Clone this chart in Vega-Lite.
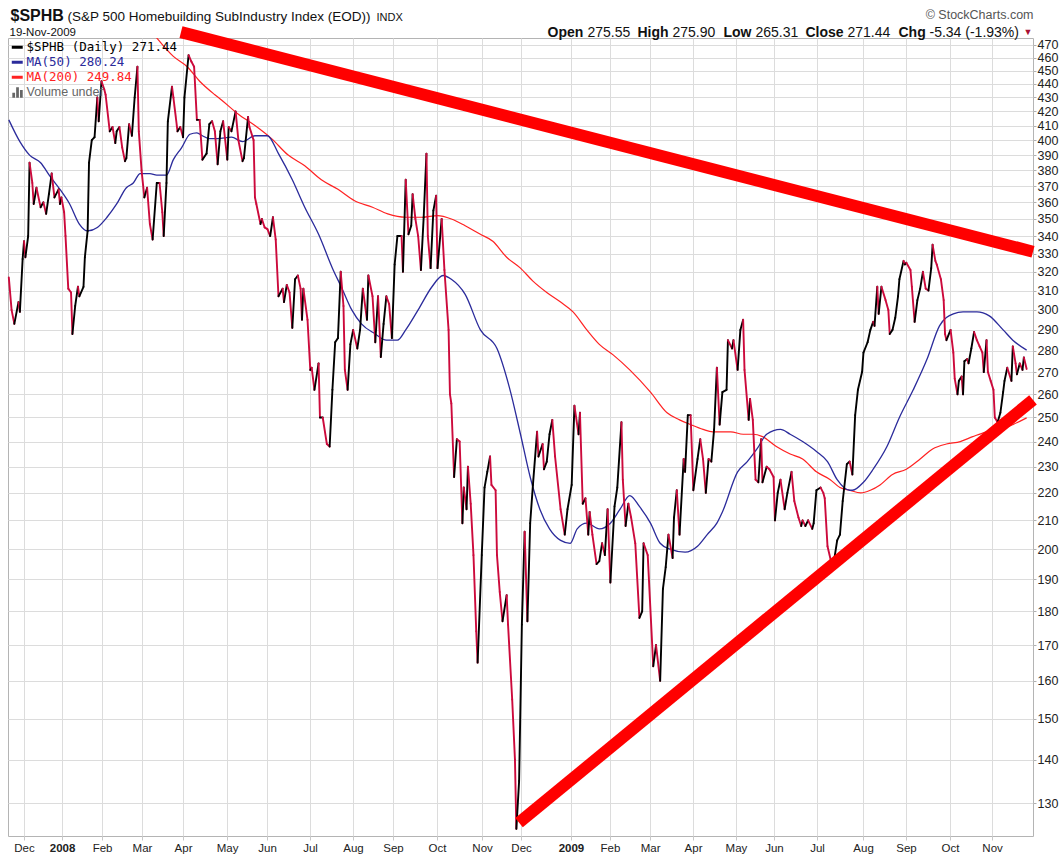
{
  "$schema": "https://vega.github.io/schema/vega-lite/v6.json",
  "width": 1025,
  "height": 798,
  "autosize": {"type": "none"},
  "padding": {"left": 8, "top": 38, "right": 28, "bottom": 19},
  "background": "white",
  "config": {
    "view": {"stroke": "#b4b4b4"},
    "font": "Liberation Sans",
    "axis": {"labelFont": "Liberation Sans", "titleFont": "Liberation Sans"}
  },
  "datasets": {
    "price": [
      {"date":"2007-11-22","close":317},{"date":"2007-11-24","close":300},{"date":"2007-11-26","close":293},{"date":"2007-11-29","close":304},{"date":"2007-11-30","close":299},
      {"date":"2007-12-02","close":327},{"date":"2007-12-03","close":337},{"date":"2007-12-04","close":328},{"date":"2007-12-06","close":340},{"date":"2007-12-07","close":385},
      {"date":"2007-12-09","close":372},{"date":"2007-12-10","close":359},{"date":"2007-12-12","close":369},{"date":"2007-12-15","close":357},{"date":"2007-12-17","close":360},
      {"date":"2007-12-19","close":353},{"date":"2007-12-21","close":365},{"date":"2007-12-23","close":378},{"date":"2007-12-25","close":363},{"date":"2007-12-28","close":368},
      {"date":"2007-12-29","close":359},{"date":"2007-12-30","close":363},{"date":"2008-01-01","close":354},{"date":"2008-01-02","close":340},{"date":"2008-01-04","close":311},
      {"date":"2008-01-06","close":309},{"date":"2008-01-07","close":288},{"date":"2008-01-09","close":302},{"date":"2008-01-11","close":312},{"date":"2008-01-12","close":307},
      {"date":"2008-01-15","close":312},{"date":"2008-01-16","close":328},{"date":"2008-01-18","close":343},{"date":"2008-01-19","close":385},{"date":"2008-01-21","close":400},
      {"date":"2008-01-23","close":402},{"date":"2008-01-25","close":430},{"date":"2008-01-26","close":413},{"date":"2008-01-28","close":442},{"date":"2008-01-30","close":436},
      {"date":"2008-01-31","close":432},{"date":"2008-02-03","close":406},{"date":"2008-02-05","close":409},{"date":"2008-02-07","close":398},{"date":"2008-02-08","close":406},
      {"date":"2008-02-10","close":409},{"date":"2008-02-12","close":395},{"date":"2008-02-14","close":386},{"date":"2008-02-15","close":388},{"date":"2008-02-17","close":411},
      {"date":"2008-02-19","close":403},{"date":"2008-02-21","close":430},{"date":"2008-02-23","close":453},{"date":"2008-02-24","close":406},{"date":"2008-02-26","close":380},
      {"date":"2008-02-28","close":363},{"date":"2008-03-01","close":369},{"date":"2008-03-03","close":347},{"date":"2008-03-05","close":338},{"date":"2008-03-08","close":372},
      {"date":"2008-03-10","close":372},{"date":"2008-03-12","close":354},{"date":"2008-03-13","close":340},{"date":"2008-03-15","close":372},{"date":"2008-03-16","close":413},
      {"date":"2008-03-19","close":438},{"date":"2008-03-20","close":430},{"date":"2008-03-23","close":406},{"date":"2008-03-25","close":409},{"date":"2008-03-27","close":402},
      {"date":"2008-03-28","close":430},{"date":"2008-03-31","close":462},{"date":"2008-04-02","close":457},{"date":"2008-04-04","close":453},{"date":"2008-04-06","close":414},
      {"date":"2008-04-08","close":414},{"date":"2008-04-10","close":387},{"date":"2008-04-13","close":391},{"date":"2008-04-15","close":411},{"date":"2008-04-17","close":413},
      {"date":"2008-04-19","close":406},{"date":"2008-04-21","close":384},{"date":"2008-04-23","close":406},{"date":"2008-04-25","close":413},{"date":"2008-04-28","close":387},
      {"date":"2008-04-29","close":409},{"date":"2008-05-01","close":406},{"date":"2008-05-04","close":420},{"date":"2008-05-06","close":400},{"date":"2008-05-09","close":386},
      {"date":"2008-05-10","close":388},{"date":"2008-05-13","close":416},{"date":"2008-05-14","close":409},{"date":"2008-05-17","close":400},{"date":"2008-05-18","close":363},
      {"date":"2008-05-19","close":359},{"date":"2008-05-22","close":347},{"date":"2008-05-23","close":350},{"date":"2008-05-25","close":345},{"date":"2008-05-27","close":344},
      {"date":"2008-05-29","close":340},{"date":"2008-05-31","close":351},{"date":"2008-06-02","close":338},{"date":"2008-06-04","close":307},{"date":"2008-06-07","close":311},
      {"date":"2008-06-08","close":304},{"date":"2008-06-10","close":313},{"date":"2008-06-12","close":309},{"date":"2008-06-14","close":291},{"date":"2008-06-16","close":316},
      {"date":"2008-06-18","close":318},{"date":"2008-06-20","close":311},{"date":"2008-06-21","close":295},{"date":"2008-06-22","close":311},{"date":"2008-06-25","close":295},
      {"date":"2008-06-27","close":271},{"date":"2008-06-28","close":272},{"date":"2008-06-30","close":262},{"date":"2008-07-03","close":274},{"date":"2008-07-04","close":250},
      {"date":"2008-07-06","close":250},{"date":"2008-07-09","close":239},{"date":"2008-07-11","close":238},{"date":"2008-07-13","close":262},{"date":"2008-07-15","close":284},
      {"date":"2008-07-17","close":286},{"date":"2008-07-19","close":320},{"date":"2008-07-21","close":302},{"date":"2008-07-22","close":271},{"date":"2008-07-24","close":262},
      {"date":"2008-07-26","close":283},{"date":"2008-07-28","close":290},{"date":"2008-07-31","close":281},{"date":"2008-08-02","close":290},{"date":"2008-08-04","close":311},
      {"date":"2008-08-07","close":295},{"date":"2008-08-08","close":318},{"date":"2008-08-11","close":307},{"date":"2008-08-13","close":284},{"date":"2008-08-15","close":307},
      {"date":"2008-08-17","close":277},{"date":"2008-08-19","close":293},{"date":"2008-08-21","close":307},{"date":"2008-08-23","close":303},{"date":"2008-08-25","close":286},
      {"date":"2008-08-27","close":324},{"date":"2008-08-29","close":340},{"date":"2008-09-01","close":340},{"date":"2008-09-02","close":320},{"date":"2008-09-04","close":374},
      {"date":"2008-09-06","close":341},{"date":"2008-09-08","close":346},{"date":"2008-09-09","close":365},{"date":"2008-09-11","close":350},{"date":"2008-09-13","close":340},
      {"date":"2008-09-15","close":321},{"date":"2008-09-17","close":351},{"date":"2008-09-19","close":391},{"date":"2008-09-20","close":340},{"date":"2008-09-22","close":322},
      {"date":"2008-09-24","close":355},{"date":"2008-09-26","close":364},{"date":"2008-09-27","close":322},{"date":"2008-09-30","close":350},{"date":"2008-10-02","close":321},
      {"date":"2008-10-05","close":290},{"date":"2008-10-06","close":260},{"date":"2008-10-07","close":256},{"date":"2008-10-09","close":226},{"date":"2008-10-11","close":241},
      {"date":"2008-10-13","close":240},{"date":"2008-10-15","close":209},{"date":"2008-10-16","close":222},{"date":"2008-10-18","close":214},{"date":"2008-10-19","close":230},
      {"date":"2008-10-21","close":216},{"date":"2008-10-23","close":198},{"date":"2008-10-25","close":174},{"date":"2008-10-26","close":165},{"date":"2008-10-29","close":198},
      {"date":"2008-10-31","close":222},{"date":"2008-11-02","close":228},{"date":"2008-11-04","close":234},{"date":"2008-11-05","close":223},{"date":"2008-11-08","close":221},
      {"date":"2008-11-09","close":198},{"date":"2008-11-11","close":186},{"date":"2008-11-13","close":177},{"date":"2008-11-16","close":185},{"date":"2008-11-17","close":176},
      {"date":"2008-11-20","close":155},{"date":"2008-11-22","close":140},{"date":"2008-11-23","close":124.5},{"date":"2008-11-25","close":135},{"date":"2008-11-27","close":176},
      {"date":"2008-11-29","close":206},{"date":"2008-12-01","close":177},{"date":"2008-12-03","close":209},{"date":"2008-12-05","close":223},{"date":"2008-12-08","close":244},
      {"date":"2008-12-09","close":234},{"date":"2008-12-12","close":239},{"date":"2008-12-13","close":229},{"date":"2008-12-15","close":232},{"date":"2008-12-17","close":243},
      {"date":"2008-12-19","close":249},{"date":"2008-12-21","close":234},{"date":"2008-12-25","close":214},{"date":"2008-12-28","close":205},{"date":"2008-12-30","close":214},
      {"date":"2009-01-02","close":223},{"date":"2009-01-04","close":255},{"date":"2009-01-07","close":243},{"date":"2009-01-08","close":252},{"date":"2009-01-10","close":216},
      {"date":"2009-01-12","close":218},{"date":"2009-01-14","close":205},{"date":"2009-01-15","close":213},{"date":"2009-01-17","close":205},{"date":"2009-01-20","close":195},
      {"date":"2009-01-22","close":196},{"date":"2009-01-24","close":202},{"date":"2009-01-26","close":198},{"date":"2009-01-28","close":214},{"date":"2009-01-30","close":189},
      {"date":"2009-02-02","close":215},{"date":"2009-02-04","close":222},{"date":"2009-02-07","close":248},{"date":"2009-02-08","close":225},{"date":"2009-02-10","close":208},
      {"date":"2009-02-12","close":216},{"date":"2009-02-14","close":211},{"date":"2009-02-17","close":202},{"date":"2009-02-20","close":178},{"date":"2009-02-22","close":180},
      {"date":"2009-02-23","close":202},{"date":"2009-02-26","close":198},{"date":"2009-03-02","close":164},{"date":"2009-03-04","close":170},{"date":"2009-03-07","close":160},
      {"date":"2009-03-09","close":187},{"date":"2009-03-11","close":194},{"date":"2009-03-13","close":205},{"date":"2009-03-16","close":197},{"date":"2009-03-17","close":211},
      {"date":"2009-03-19","close":221},{"date":"2009-03-21","close":205},{"date":"2009-03-24","close":233},{"date":"2009-03-25","close":228},{"date":"2009-03-27","close":251},
      {"date":"2009-03-29","close":251},{"date":"2009-03-31","close":221},{"date":"2009-04-03","close":233},{"date":"2009-04-05","close":241},{"date":"2009-04-07","close":233},
      {"date":"2009-04-09","close":220},{"date":"2009-04-11","close":233},{"date":"2009-04-13","close":232},{"date":"2009-04-15","close":245},{"date":"2009-04-17","close":272},
      {"date":"2009-04-19","close":247},{"date":"2009-04-21","close":261},{"date":"2009-04-24","close":262},{"date":"2009-04-25","close":285},{"date":"2009-04-28","close":281},
      {"date":"2009-04-29","close":285},{"date":"2009-05-02","close":271},{"date":"2009-05-04","close":290},{"date":"2009-05-06","close":295},{"date":"2009-05-07","close":271},
      {"date":"2009-05-10","close":249},{"date":"2009-05-11","close":258},{"date":"2009-05-13","close":249},{"date":"2009-05-15","close":225},{"date":"2009-05-17","close":224},
      {"date":"2009-05-19","close":241},{"date":"2009-05-20","close":224},{"date":"2009-05-23","close":230},{"date":"2009-05-25","close":229},{"date":"2009-05-28","close":226},
      {"date":"2009-05-29","close":210},{"date":"2009-05-31","close":220},{"date":"2009-06-02","close":225},{"date":"2009-06-05","close":214},{"date":"2009-06-07","close":220},
      {"date":"2009-06-10","close":228},{"date":"2009-06-12","close":217},{"date":"2009-06-15","close":211},{"date":"2009-06-17","close":208},{"date":"2009-06-18","close":210},
      {"date":"2009-06-20","close":208},{"date":"2009-06-22","close":210},{"date":"2009-06-25","close":207},{"date":"2009-06-26","close":209},{"date":"2009-06-28","close":221},
      {"date":"2009-07-01","close":222},{"date":"2009-07-03","close":220},{"date":"2009-07-04","close":218},{"date":"2009-07-06","close":201},{"date":"2009-07-09","close":195},
      {"date":"2009-07-10","close":194},{"date":"2009-07-13","close":203},{"date":"2009-07-15","close":205},{"date":"2009-07-17","close":217},{"date":"2009-07-20","close":231},
      {"date":"2009-07-22","close":232},{"date":"2009-07-24","close":227},{"date":"2009-07-26","close":251},{"date":"2009-07-28","close":262},{"date":"2009-07-31","close":270},
      {"date":"2009-08-01","close":279},{"date":"2009-08-04","close":284},{"date":"2009-08-06","close":290},{"date":"2009-08-08","close":294},{"date":"2009-08-09","close":292},
      {"date":"2009-08-11","close":312},{"date":"2009-08-12","close":298},{"date":"2009-08-14","close":312},{"date":"2009-08-17","close":305},{"date":"2009-08-19","close":300},
      {"date":"2009-08-20","close":288},{"date":"2009-08-22","close":290},{"date":"2009-08-24","close":296},{"date":"2009-08-26","close":307},{"date":"2009-08-27","close":316},
      {"date":"2009-08-30","close":326},{"date":"2009-08-31","close":324},{"date":"2009-09-01","close":325},{"date":"2009-09-04","close":321},{"date":"2009-09-05","close":312},
      {"date":"2009-09-07","close":294},{"date":"2009-09-09","close":305},{"date":"2009-09-11","close":311},{"date":"2009-09-13","close":320},{"date":"2009-09-15","close":311},
      {"date":"2009-09-17","close":310},{"date":"2009-09-19","close":322},{"date":"2009-09-20","close":335},{"date":"2009-09-22","close":326},{"date":"2009-09-23","close":324},
      {"date":"2009-09-26","close":316},{"date":"2009-09-28","close":305},{"date":"2009-09-29","close":288},{"date":"2009-09-30","close":285},{"date":"2009-10-03","close":290},
      {"date":"2009-10-05","close":279},{"date":"2009-10-06","close":267},{"date":"2009-10-08","close":260},{"date":"2009-10-09","close":266},{"date":"2009-10-11","close":268},
      {"date":"2009-10-12","close":260},{"date":"2009-10-13","close":275},{"date":"2009-10-15","close":276},{"date":"2009-10-16","close":274},{"date":"2009-10-18","close":281},
      {"date":"2009-10-20","close":289},{"date":"2009-10-22","close":285},{"date":"2009-10-24","close":282},{"date":"2009-10-26","close":279},{"date":"2009-10-27","close":270},
      {"date":"2009-10-29","close":285},{"date":"2009-10-30","close":270},{"date":"2009-11-01","close":266},{"date":"2009-11-03","close":262},{"date":"2009-11-04","close":250},
      {"date":"2009-11-06","close":248},{"date":"2009-11-08","close":252},{"date":"2009-11-10","close":261},{"date":"2009-11-11","close":266},{"date":"2009-11-13","close":272},
      {"date":"2009-11-16","close":266},{"date":"2009-11-17","close":282},{"date":"2009-11-19","close":274},{"date":"2009-11-20","close":269},{"date":"2009-11-22","close":274},
      {"date":"2009-11-24","close":271},{"date":"2009-11-25","close":276.78},{"date":"2009-11-27","close":271.44}
    ],
    "ma50": [
      {"date":"2007-11-22","ma":414},{"date":"2007-11-30","ma":399},{"date":"2007-12-07","ma":390},{"date":"2007-12-15","ma":385},{"date":"2007-12-22","ma":376},
      {"date":"2007-12-29","ma":368},{"date":"2008-01-05","ma":359},{"date":"2008-01-12","ma":347},{"date":"2008-01-18","ma":343},{"date":"2008-01-25","ma":345},
      {"date":"2008-02-01","ma":351},{"date":"2008-02-08","ma":359},{"date":"2008-02-15","ma":369},{"date":"2008-02-20","ma":372},{"date":"2008-02-25","ma":378},
      {"date":"2008-03-03","ma":378},{"date":"2008-03-08","ma":377},{"date":"2008-03-15","ma":377},{"date":"2008-03-20","ma":387},{"date":"2008-03-26","ma":395},
      {"date":"2008-04-01","ma":404},{"date":"2008-04-06","ma":405},{"date":"2008-04-10","ma":403},{"date":"2008-04-15","ma":401},{"date":"2008-04-21","ma":401},
      {"date":"2008-05-01","ma":402},{"date":"2008-05-09","ma":399},{"date":"2008-05-18","ma":403},{"date":"2008-05-27","ma":403},{"date":"2008-06-04","ma":391},
      {"date":"2008-06-14","ma":374},{"date":"2008-06-23","ma":357},{"date":"2008-07-03","ma":341},{"date":"2008-07-13","ma":322},{"date":"2008-07-20","ma":311},
      {"date":"2008-07-27","ma":300},{"date":"2008-08-03","ma":293},{"date":"2008-08-13","ma":288},{"date":"2008-08-21","ma":285},{"date":"2008-08-29","ma":285},
      {"date":"2008-09-04","ma":290},{"date":"2008-09-13","ma":300},{"date":"2008-09-23","ma":312},{"date":"2008-10-01","ma":318},{"date":"2008-10-07","ma":316},
      {"date":"2008-10-17","ma":308},{"date":"2008-10-28","ma":290},{"date":"2008-11-09","ma":281},{"date":"2008-11-18","ma":263},{"date":"2008-11-26","ma":243},
      {"date":"2008-12-03","ma":226},{"date":"2008-12-10","ma":214},{"date":"2008-12-17","ma":207},{"date":"2008-12-25","ma":203},{"date":"2009-01-01","ma":202},
      {"date":"2009-01-06","ma":207},{"date":"2009-01-13","ma":209},{"date":"2009-01-22","ma":207},{"date":"2009-01-30","ma":209},{"date":"2009-02-06","ma":214},
      {"date":"2009-02-13","ma":219},{"date":"2009-02-20","ma":215},{"date":"2009-02-28","ma":209},{"date":"2009-03-07","ma":202},{"date":"2009-03-14","ma":200},
      {"date":"2009-03-25","ma":199},{"date":"2009-04-03","ma":201},{"date":"2009-04-10","ma":205},{"date":"2009-04-17","ma":209},{"date":"2009-04-21","ma":213},
      {"date":"2009-05-02","ma":228},{"date":"2009-05-09","ma":232},{"date":"2009-05-16","ma":237},{"date":"2009-05-23","ma":243},{"date":"2009-06-02","ma":245},
      {"date":"2009-06-09","ma":243},{"date":"2009-06-18","ma":240},{"date":"2009-06-28","ma":236},{"date":"2009-07-06","ma":232},{"date":"2009-07-13","ma":225},
      {"date":"2009-07-22","ma":221},{"date":"2009-07-24","ma":221},{"date":"2009-08-01","ma":224},{"date":"2009-08-08","ma":229},{"date":"2009-08-18","ma":238},
      {"date":"2009-08-27","ma":250},{"date":"2009-09-06","ma":262},{"date":"2009-09-16","ma":276},{"date":"2009-09-25","ma":292},{"date":"2009-10-05","ma":298},
      {"date":"2009-10-12","ma":299},{"date":"2009-10-22","ma":299},{"date":"2009-10-31","ma":297},{"date":"2009-11-10","ma":290},{"date":"2009-11-17","ma":285},
      {"date":"2009-11-27","ma":280.24}
    ],
    "ma200": [
      {"date":"2008-03-07","ma":477},{"date":"2008-03-20","ma":461},{"date":"2008-03-30","ma":453},{"date":"2008-04-08","ma":442},{"date":"2008-04-19","ma":432},
      {"date":"2008-04-24","ma":428},{"date":"2008-05-06","ma":418},{"date":"2008-05-18","ma":410},{"date":"2008-05-30","ma":401},{"date":"2008-06-11","ma":390},
      {"date":"2008-06-23","ma":383},{"date":"2008-07-05","ma":374},{"date":"2008-07-17","ma":368},{"date":"2008-07-29","ma":361},{"date":"2008-08-11","ma":357},
      {"date":"2008-08-22","ma":353},{"date":"2008-09-04","ma":351},{"date":"2008-09-16","ma":351},{"date":"2008-09-27","ma":352},{"date":"2008-10-07","ma":350},
      {"date":"2008-10-17","ma":346},{"date":"2008-10-28","ma":341},{"date":"2008-11-06","ma":337},{"date":"2008-11-16","ma":328},{"date":"2008-11-26","ma":322},
      {"date":"2008-12-05","ma":315},{"date":"2008-12-15","ma":309},{"date":"2008-12-25","ma":304},{"date":"2009-01-03","ma":299},{"date":"2009-01-13","ma":290},
      {"date":"2009-01-22","ma":283},{"date":"2009-02-01","ma":278},{"date":"2009-02-13","ma":271},{"date":"2009-02-28","ma":261},{"date":"2009-03-12","ma":252},
      {"date":"2009-03-21","ma":249},{"date":"2009-03-29","ma":247},{"date":"2009-04-07","ma":245},{"date":"2009-04-14","ma":244},{"date":"2009-04-27","ma":244},
      {"date":"2009-05-06","ma":243},{"date":"2009-05-13","ma":243},{"date":"2009-05-20","ma":242},{"date":"2009-05-30","ma":238},{"date":"2009-06-09","ma":235},
      {"date":"2009-06-18","ma":233},{"date":"2009-06-28","ma":228},{"date":"2009-07-08","ma":225},{"date":"2009-07-15","ma":222},{"date":"2009-07-22","ma":221},
      {"date":"2009-07-30","ma":220},{"date":"2009-08-06","ma":221},{"date":"2009-08-13","ma":223},{"date":"2009-08-22","ma":227},{"date":"2009-09-01","ma":229},
      {"date":"2009-09-11","ma":233},{"date":"2009-09-20","ma":237},{"date":"2009-09-30","ma":239},{"date":"2009-10-10","ma":240},{"date":"2009-10-19","ma":242},
      {"date":"2009-10-29","ma":244},{"date":"2009-11-08","ma":245},{"date":"2009-11-17","ma":247},{"date":"2009-11-27","ma":249.84}
    ],
    "trend": [
      {"seg":"down","date":"2008-03-25T12:00:00Z","v":480.4},
      {"seg":"down","date":"2009-12-01T14:24:00Z","v":331.1},
      {"seg":"up","date":"2008-11-24T22:00:00Z","v":125.8},
      {"seg":"up","date":"2009-12-01T14:24:00Z","v":257.6}
    ]
  },
  "layer": [
    {
      "data": {"name": "ma200"},
      "mark": {"type": "line", "strokeWidth": 1.2, "clip": true, "interpolate": "monotone"},
      "encoding": {
        "x": {
          "field": "date", "type": "temporal",
          "scale": {"domain": [{"year":2007,"month":11,"date":21,"hours":10,"utc":true},{"year":2009,"month":12,"date":1,"hours":14,"minutes":24,"utc":true}], "nice": false},
          "axis": {
            "orient": "bottom",
            "values": [
              {"year":2007,"month":12,"date":3,"utc":true},
              {"year":2007,"month":12,"date":30,"hours":12,"utc":true},
              {"year":2008,"month":1,"date":28,"hours":10,"utc":true},
              {"year":2008,"month":2,"date":26,"hours":7,"utc":true},
              {"year":2008,"month":3,"date":27,"utc":true},
              {"year":2008,"month":4,"date":27,"hours":19,"utc":true},
              {"year":2008,"month":5,"date":26,"hours":17,"utc":true},
              {"year":2008,"month":6,"date":26,"hours":19,"utc":true},
              {"year":2008,"month":7,"date":27,"hours":22,"utc":true},
              {"year":2008,"month":8,"date":25,"hours":19,"utc":true},
              {"year":2008,"month":9,"date":26,"hours":14,"utc":true},
              {"year":2008,"month":10,"date":29,"hours":5,"utc":true},
              {"year":2008,"month":11,"date":26,"hours":10,"utc":true},
              {"year":2009,"month":1,"date":1,"hours":12,"utc":true},
              {"year":2009,"month":1,"date":29,"hours":17,"utc":true},
              {"year":2009,"month":2,"date":27,"hours":17,"utc":true},
              {"year":2009,"month":3,"date":30,"hours":19,"utc":true},
              {"year":2009,"month":4,"date":30,"hours":19,"utc":true},
              {"year":2009,"month":5,"date":28,"hours":7,"utc":true},
              {"year":2009,"month":6,"date":28,"hours":10,"utc":true},
              {"year":2009,"month":7,"date":31,"hours":17,"utc":true},
              {"year":2009,"month":8,"date":31,"hours":19,"utc":true},
              {"year":2009,"month":10,"date":2,"hours":14,"utc":true},
              {"year":2009,"month":11,"date":2,"utc":true}
            ],
            "labelExpr": "utcmonth(time(datum.value) + 604800000) == 0 ? utcFormat(time(datum.value) + 604800000, '%Y') : utcFormat(time(datum.value) + 604800000, '%b')",
            "labelFontWeight": {"condition": {"test": "utcmonth(time(datum.value) + 604800000) == 0", "value": "bold"}, "value": "normal"},
            "labelFontSize": 11.5, "labelColor": "#222222", "labelPadding": 2, "labelOverlap": false, "labelFlush": false,
            "grid": true, "gridColor": "#dcdcdc", "gridWidth": 1,
            "ticks": true, "tickSize": 4, "tickColor": "#c8c8c8", "domain": false,
            "title": "(S&P 500 Homebuilding SubIndustry Index (EOD))",
            "titleX": 59, "titleY": -816, "titleAlign": "left", "titleBaseline": "alphabetic",
            "titleFontSize": 13.5, "titleFontWeight": "normal", "titleColor": "#111111"
          }
        },
        "y": {
          "field": "ma", "type": "quantitative",
          "scale": {"type": "log", "domain": [123.0, 475.6], "nice": false, "zero": false},
          "axis": {
            "orient": "right",
            "values": [130,140,150,160,170,180,190,200,210,220,230,240,250,260,270,280,290,300,310,320,330,340,350,360,370,380,390,400,410,420,430,440,450,460,470],
            "format": "d",
            "labelFontSize": 12.5, "labelColor": "#222222", "labelPadding": 1, "labelOverlap": false, "labelFlush": false,
            "grid": true, "gridColor": "#dcdcdc", "gridWidth": 1,
            "ticks": true, "tickSize": 3, "tickColor": "#b0b0b0", "domain": false,
            "title": "Open",
            "titleAngle": 0, "titleX": -486, "titleY": -2, "titleAlign": "left", "titleBaseline": "alphabetic",
            "titleFontSize": 14, "titleFontWeight": "bold", "titleColor": "#111111"
          }
        },
        "color": {
          "datum": "MA(200) 249.84", "type": "nominal",
          "scale": {"domain": ["$SPHB (Daily) 271.44", "MA(50) 280.24", "MA(200) 249.84", "Volume undef"], "range": ["#000000", "#2b2b9b", "#ff2222", "#666666"]},
          "legend": {
            "orient": "top-left", "offset": 0, "padding": 3, "title": null,
            "symbolType": "stroke", "symbolSize": 120, "symbolStrokeWidth": 3,
            "labelFont": "DejaVu Sans Mono", "labelFontSize": 12.5, "labelOffset": 3, "labelLimit": 300, "rowPadding": 2,
            "encode": {
              "labels": {"update": {
                "fill": {"scale": "color", "field": "value"},
                "font": {"signal": "datum.value === 'Volume undef' ? 'Liberation Sans' : 'DejaVu Sans Mono'"}
              }},
              "symbols": {"update": {
                "shape": {"signal": "datum.value === 'Volume undef' ? 'M-0.9,1V0.1H-0.4V1Z M-0.2,1V-0.9H0.3V1Z M0.5,1V-0.4H1V1Z' : 'stroke'"},
                "fill": {"signal": "datum.value === 'Volume undef' ? '#666666' : 'transparent'"},
                "strokeWidth": {"signal": "datum.value === 'Volume undef' ? 0 : 3"}
              }}
            }
          }
        }
      }
    },
    {
      "data": {"name": "ma50"},
      "mark": {"type": "line", "strokeWidth": 1.3, "clip": true, "interpolate": "monotone"},
      "encoding": {
        "x": {
          "field": "date", "type": "temporal",
          "axis": {
            "orient": "top", "labels": false, "ticks": false, "domain": false, "grid": false,
            "title": "$SPHB", "titleX": 2, "titleY": -18, "titleAlign": "left", "titleBaseline": "alphabetic",
            "titleFontSize": 16, "titleFontWeight": "bold", "titleColor": "#111111"
          }
        },
        "y": {
          "field": "ma", "type": "quantitative",
          "axis": {
            "orient": "left", "labels": false, "ticks": false, "domain": false, "grid": false,
            "title": "19-Nov-2009", "titleAngle": 0, "titleX": 1, "titleY": -3, "titleAlign": "left", "titleBaseline": "alphabetic",
            "titleFontSize": 11.5, "titleFontWeight": "normal", "titleColor": "#111111"
          }
        },
        "color": {"datum": "MA(50) 280.24", "type": "nominal"}
      }
    },
    {
      "data": {"name": "price"},
      "transform": [
        {"window": [{"op": "lag", "field": "close", "as": "prev"}, {"op": "lag", "field": "date", "as": "pdate"}], "sort": [{"field": "date", "order": "ascending"}]},
        {"filter": "datum.prev != null"}
      ],
      "mark": {"type": "rule", "strokeWidth": 1.9, "strokeCap": "round"},
      "encoding": {
        "x": {
          "field": "date", "type": "temporal",
          "axis": {
            "orient": "top", "labels": false, "ticks": false, "domain": false, "grid": false,
            "title": "© StockCharts.com", "titleX": 1025, "titleY": -20, "titleAlign": "right", "titleBaseline": "alphabetic",
            "titleFontSize": 12.5, "titleFontWeight": "normal", "titleColor": "#555555"
          }
        },
        "x2": {"field": "pdate"},
        "y": {
          "field": "close", "type": "quantitative",
          "axis": {
            "orient": "left", "labels": false, "ticks": false, "domain": false, "grid": false,
            "title": "INDX", "titleAngle": 0, "titleX": 368, "titleY": -18, "titleAlign": "left", "titleBaseline": "alphabetic",
            "titleFontSize": 11, "titleFontWeight": "normal", "titleColor": "#111111"
          }
        },
        "y2": {"field": "prev"},
        "color": {"condition": {"test": "datum.close >= datum.prev", "value": "#000000"}, "value": "#cc0a3c"}
      }
    },
    {
      "data": {"name": "trend"},
      "mark": {"type": "line", "strokeWidth": 12, "strokeCap": "butt", "color": "#ff0000", "clip": false},
      "encoding": {
        "x": {
          "field": "date", "type": "temporal",
          "axis": {
            "orient": "top", "labels": false, "ticks": false, "domain": false, "grid": false,
            "title": "▼", "titleX": 1015, "titleY": -4, "titleAlign": "left", "titleBaseline": "alphabetic",
            "titleFontSize": 9, "titleFontWeight": "normal", "titleColor": "#aa1133"
          }
        },
        "y": {
          "field": "v", "type": "quantitative",
          "axis": {
            "orient": "left", "labels": false, "ticks": false, "domain": false, "grid": false,
            "title": "275.55", "titleAngle": 0, "titleX": 579, "titleY": -2, "titleAlign": "left", "titleBaseline": "alphabetic",
            "titleFontSize": 14, "titleFontWeight": "normal", "titleColor": "#111111"
          }
        },
        "detail": {"field": "seg", "type": "nominal"}
      }
    },
    {
      "data": {"name": "trend"},
      "mark": {"type": "point", "opacity": 0},
      "encoding": {
        "x": {
          "field": "date", "type": "temporal",
          "axis": {
            "orient": "top", "labels": false, "ticks": false, "domain": false, "grid": false,
            "title": "High", "titleX": 629, "titleY": -2, "titleAlign": "left", "titleBaseline": "alphabetic",
            "titleFontSize": 14, "titleFontWeight": "bold", "titleColor": "#111111"
          }
        },
        "y": {
          "field": "v", "type": "quantitative",
          "axis": {
            "orient": "left", "labels": false, "ticks": false, "domain": false, "grid": false,
            "title": "275.90", "titleAngle": 0, "titleX": 664, "titleY": -2, "titleAlign": "left", "titleBaseline": "alphabetic",
            "titleFontSize": 14, "titleFontWeight": "normal", "titleColor": "#111111"
          }
        }
      }
    },
    {
      "data": {"name": "trend"},
      "mark": {"type": "point", "opacity": 0},
      "encoding": {
        "x": {
          "field": "date", "type": "temporal",
          "axis": {
            "orient": "top", "labels": false, "ticks": false, "domain": false, "grid": false,
            "title": "Low", "titleX": 715, "titleY": -2, "titleAlign": "left", "titleBaseline": "alphabetic",
            "titleFontSize": 14, "titleFontWeight": "bold", "titleColor": "#111111"
          }
        },
        "y": {
          "field": "v", "type": "quantitative",
          "axis": {
            "orient": "left", "labels": false, "ticks": false, "domain": false, "grid": false,
            "title": "265.31", "titleAngle": 0, "titleX": 747, "titleY": -2, "titleAlign": "left", "titleBaseline": "alphabetic",
            "titleFontSize": 14, "titleFontWeight": "normal", "titleColor": "#111111"
          }
        }
      }
    },
    {
      "data": {"name": "trend"},
      "mark": {"type": "point", "opacity": 0},
      "encoding": {
        "x": {
          "field": "date", "type": "temporal",
          "axis": {
            "orient": "top", "labels": false, "ticks": false, "domain": false, "grid": false,
            "title": "Close", "titleX": 797, "titleY": -2, "titleAlign": "left", "titleBaseline": "alphabetic",
            "titleFontSize": 14, "titleFontWeight": "bold", "titleColor": "#111111"
          }
        },
        "y": {
          "field": "v", "type": "quantitative",
          "axis": {
            "orient": "left", "labels": false, "ticks": false, "domain": false, "grid": false,
            "title": "271.44", "titleAngle": 0, "titleX": 839, "titleY": -2, "titleAlign": "left", "titleBaseline": "alphabetic",
            "titleFontSize": 14, "titleFontWeight": "normal", "titleColor": "#111111"
          }
        }
      }
    },
    {
      "data": {"name": "trend"},
      "mark": {"type": "point", "opacity": 0},
      "encoding": {
        "x": {
          "field": "date", "type": "temporal",
          "axis": {
            "orient": "top", "labels": false, "ticks": false, "domain": false, "grid": false,
            "title": "Chg", "titleX": 890, "titleY": -2, "titleAlign": "left", "titleBaseline": "alphabetic",
            "titleFontSize": 14, "titleFontWeight": "bold", "titleColor": "#111111"
          }
        },
        "y": {
          "field": "v", "type": "quantitative",
          "axis": {
            "orient": "left", "labels": false, "ticks": false, "domain": false, "grid": false,
            "title": "-5.34 (-1.93%)", "titleAngle": 0, "titleX": 921, "titleY": -2, "titleAlign": "left", "titleBaseline": "alphabetic",
            "titleFontSize": 14, "titleFontWeight": "normal", "titleColor": "#111111"
          }
        }
      }
    }
  ],
  "resolve": {"axis": {"x": "independent", "y": "independent"}}
}
